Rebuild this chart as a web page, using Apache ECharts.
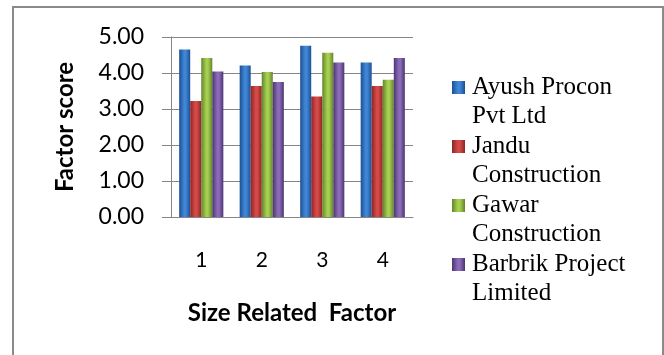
<!DOCTYPE html>
<html>
<head>
<meta charset="utf-8">
<script src="https://cdn.jsdelivr.net/npm/echarts@6/dist/echarts.min.js"></script>
<style>
  html, body { margin: 0; padding: 0; background: #fff; }
  #chart { width: 664px; height: 355px; }
</style>
</head>
<body>
<div id="chart"></div>
<script>
// Size related factor scores for four contractors
const categories = ['1', '2', '3', '4'];
const seriesNames = [
  'Ayush Procon\nPvt Ltd',
  'Jandu\nConstruction',
  'Gawar\nConstruction',
  'Barbrik Project\nLimited'
];
const ayushScores   = [4.65, 4.21, 4.76, 4.29];
const janduScores   = [3.22, 3.64, 3.35, 3.64];
const gawarScores   = [4.42, 4.03, 4.56, 3.81];
const barbrikScores = [4.04, 3.75, 4.29, 4.42];
const yTicks = [0, 1, 2, 3, 4, 5];

const seriesValues = [ayushScores, janduScores, gawarScores, barbrikScores];
// [edge shade, centre highlight, base colour]
const palette = [
  ['#1d4f92', '#3f86d6', '#2e6cb8'],
  ['#8e2526', '#d44a47', '#bf3a38'],
  ['#62852a', '#a6cf52', '#8bb63f'],
  ['#4d3470', '#8a6bb8', '#6e5197']
];

function shade(c) {
  return {
    type: 'linear', x: 0, y: 0, x2: 1, y2: 0,
    colorStops: [
      { offset: 0, color: c[0] },
      { offset: 0.45, color: c[1] },
      { offset: 0.6, color: c[1] },
      { offset: 1, color: c[0] }
    ]
  };
}

const chart = echarts.init(document.getElementById('chart'));

const serifFont = 'Liberation Serif';
const rich = {
  s: { width: 13, height: 13 },
  t: {
    fontFamily: serifFont,
    fontSize: 25, lineHeight: 29, color: '#000', padding: [0, 0, 0, 7]
  }
};
palette.forEach((c, i) => {
  rich['m' + i] = { width: 13, height: 13, backgroundColor: shade([c[0], c[1], c[1]]) };
});

const axisFont = 'Lato';

chart.setOption({
  animation: false,
  backgroundColor: '#fff',
  graphic: [{
    type: 'rect',
    shape: { x: 13, y: 7, width: 650, height: 360 },
    style: { fill: 'none', stroke: '#8a8a8a', lineWidth: 2 },
    silent: true
  }],
  grid: { left: 171, right: 251, top: 37, bottom: 138 },
  legend: {
    orient: 'vertical',
    left: 442,
    top: 70,
    itemWidth: 0,
    itemHeight: 0,
    itemGap: 5,
    icon: 'rect',
    selectedMode: false,
    data: seriesNames,
    formatter: function (name) {
      const i = seriesNames.indexOf(name);
      const lines = name.split('\n');
      return '{m' + i + '|}{t|' + lines[0] + '}\n{s|}{t|' + lines[1] + '}';
    },
    textStyle: { fontFamily: serifFont, fontSize: 25, color: '#000', rich: rich }
  },
  xAxis: {
    type: 'category',
    data: categories,
    name: 'Size Related  Factor',
    nameLocation: 'middle',
    nameGap: 84,
    nameTextStyle: { fontFamily: axisFont, fontWeight: 'bold', fontSize: 24, color: '#000' },
    axisLine: { lineStyle: { color: '#868686', width: 1 } },
    axisTick: { show: false },
    axisLabel: { fontFamily: axisFont, fontSize: 21, color: '#000', margin: 33 }
  },
  yAxis: {
    type: 'value',
    min: yTicks[0],
    max: yTicks[yTicks.length - 1],
    interval: 1,
    name: 'Factor score',
    nameLocation: 'middle',
    nameGap: 94,
    nameTextStyle: { fontFamily: axisFont, fontWeight: 'bold', fontSize: 24, color: '#000' },
    axisLine: { show: true, lineStyle: { color: '#868686', width: 1 } },
    axisTick: { show: true, inside: false, length: 9, lineStyle: { color: '#868686' } },
    splitLine: { lineStyle: { color: '#868686', width: 1 } },
    axisLabel: {
      fontFamily: axisFont, fontSize: 23, color: '#000', margin: 27,
      formatter: v => v.toFixed(2)
    }
  },
  series: seriesValues.map((vals, i) => ({
    name: seriesNames[i],
    type: 'bar',
    data: vals,
    barGap: '0%',
    barCategoryGap: '27%',
    itemStyle: { color: shade(palette[i]) }
  }))
});
</script>
</body>
</html>
